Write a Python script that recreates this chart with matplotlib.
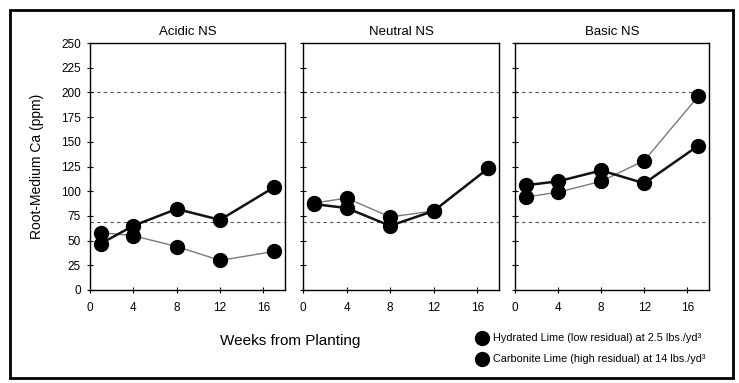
import matplotlib
matplotlib.use("Agg")
import matplotlib.pyplot as plt
from matplotlib.lines import Line2D
from matplotlib.patches import Rectangle

plt.rcParams['font.family'] = ['Liberation Sans', 'DejaVu Sans']

weeks = [1, 4, 8, 12, 17]
panels = ["Acidic NS", "Neutral NS", "Basic NS"]
hydrated = {
    "Acidic NS": [47, 65, 82, 71, 104],
    "Neutral NS": [87, 83, 65, 80, 123],
    "Basic NS": [106, 110, 121, 108, 146],
}
carbonite = {
    "Acidic NS": [58, 55, 44, 30, 39],
    "Neutral NS": [88, 93, 74, 80, 123],
    "Basic NS": [94, 99, 110, 131, 196],
}
ref_lines = [200, 69]
yticks = [0, 25, 50, 75, 100, 125, 150, 175, 200, 225, 250]
xticks = [0, 4, 8, 12, 16]
legend_labels = ["Hydrated Lime (low residual) at 2.5 lbs./yd³",
                 "Carbonite Lime (high residual) at 14 lbs./yd³"]

W, H = 739, 383
fig = plt.figure(figsize=(W / 100, H / 100), dpi=100)

lefts = [90, 303, 515]
rights = [285, 499, 709]
top_px, bot_px = 43, 290

for i, name in enumerate(panels):
    ax = fig.add_axes([lefts[i] / W, 1 - bot_px / H,
                       (rights[i] - lefts[i]) / W, (bot_px - top_px) / H])
    for y in ref_lines:
        ax.axhline(y, color='#555555', lw=0.8, ls=(0, (3, 3)), zorder=1)
    ax.plot(weeks, carbonite[name], color='#7a7a7a', lw=1.0, marker='o',
            ms=10, mfc='black', mec='black', zorder=3)
    ax.plot(weeks, hydrated[name], color='#111111', lw=1.8, marker='o',
            ms=10, mfc='black', mec='black', zorder=4)
    ax.set_xlim(0, 18)
    ax.set_ylim(0, 250)
    ax.set_xticks(xticks)
    ax.set_yticks(yticks)
    ax.tick_params(direction='inout', length=5, width=0.8, labelsize=8.5)
    ax.tick_params(axis='x', pad=6)
    ax.tick_params(axis='y', pad=4)
    if i > 0:
        ax.set_yticklabels([])
    for s in ax.spines.values():
        s.set_linewidth(1.0)
        s.set_color('black')
    ax.set_title(name, fontsize=9.5, pad=6)
    if i == 0:
        ax.set_ylabel("Root-Medium Ca (ppm)", fontsize=10, labelpad=12)

fig.text(290 / W, 1 - 341 / H, "Weeks from Planting", fontsize=11,
         ha='center', va='center')

leg_y = [338, 359]
for lab, yp in zip(legend_labels, leg_y):
    fig.add_artist(Line2D([482 / W], [1 - yp / H], marker='o', color='black',
                          ls='none', ms=10, transform=fig.transFigure))
    fig.text(493 / W, 1 - yp / H, lab, fontsize=7.8, ha='left', va='center')

fig.patches.append(Rectangle((10 / W, 1 - 378 / H), 723 / W, 368 / H,
                             transform=fig.transFigure, fill=False,
                             lw=2, edgecolor='black'))

fig.savefig("out.png", dpi=100)
